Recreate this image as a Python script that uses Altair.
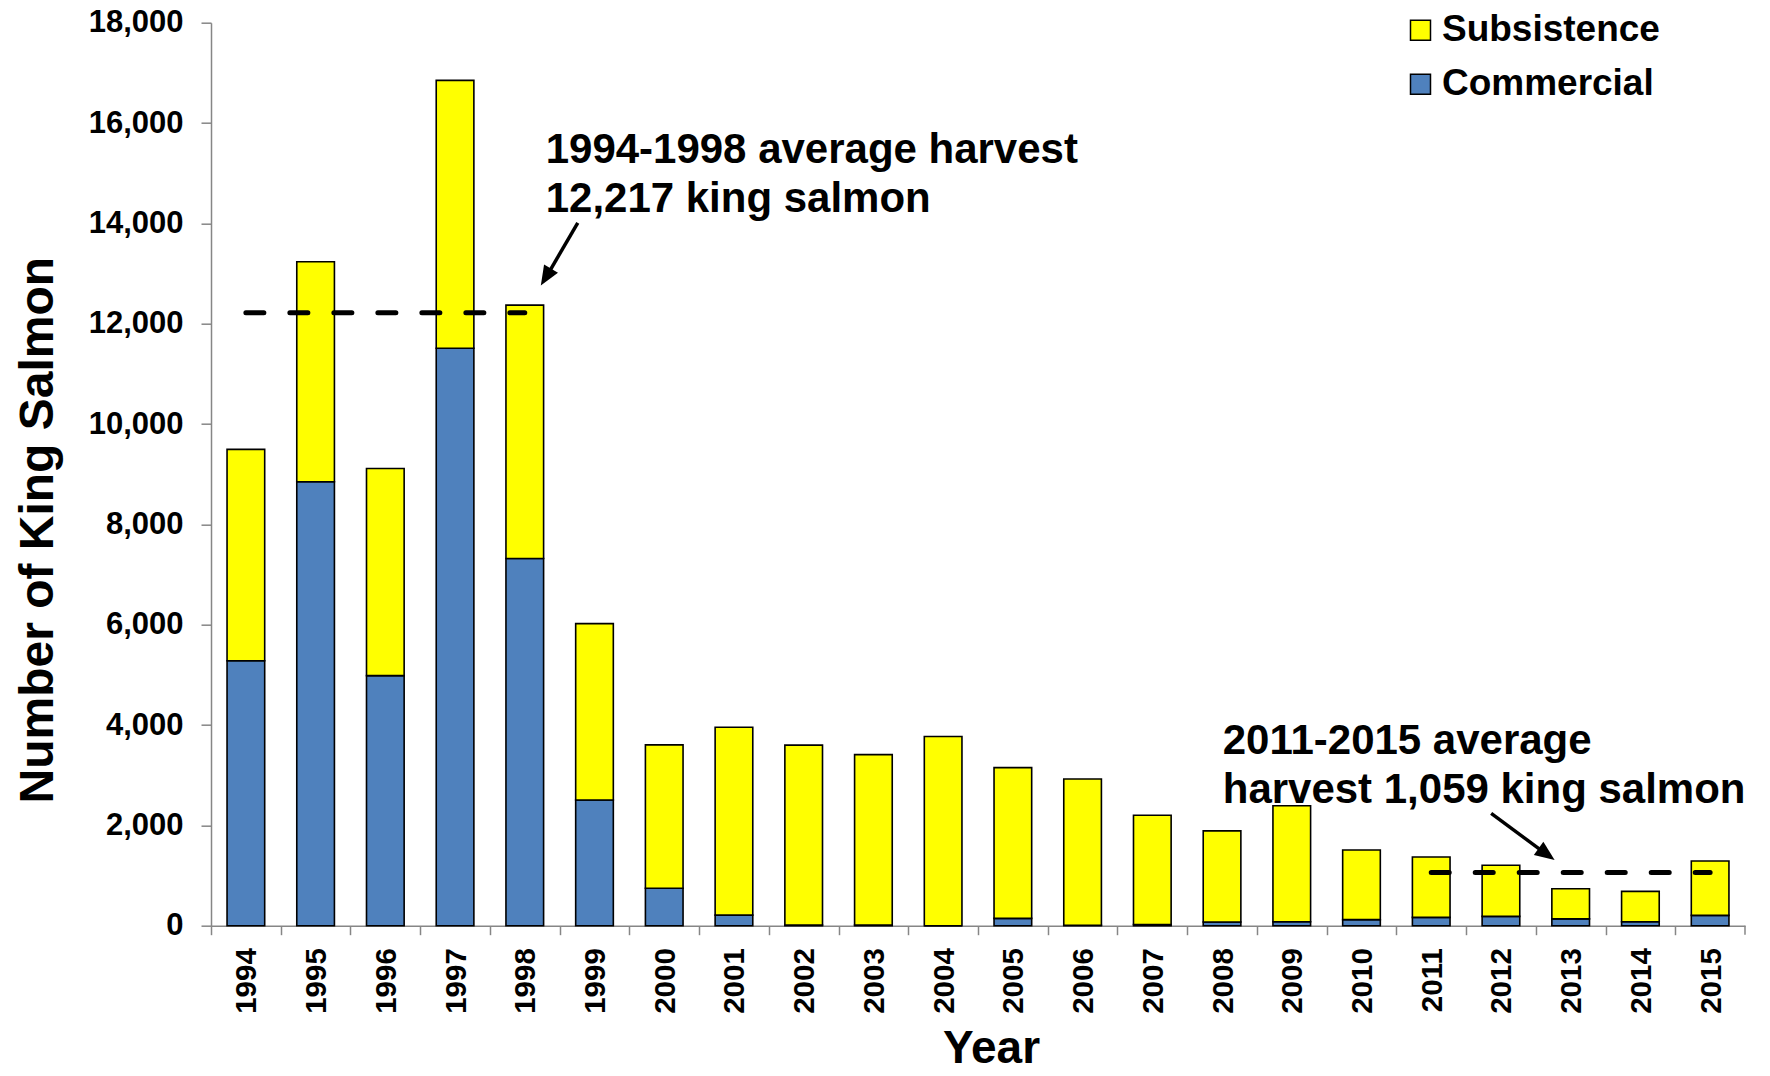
import altair as alt
import pandas as pd

years = [str(y) for y in range(1994, 2016)]
totals = [9495, 13235, 9115, 16850, 12370, 6022, 3605, 3955, 3600, 3410, 3770,
          3150, 2925, 2200, 1890, 2390, 1510, 1370, 1205, 735, 685, 1290]
commercial = [5280, 8850, 4985, 11510, 7320, 2506, 745, 210, 15, 15, 0,
              145, 10, 25, 75, 80, 120, 165, 185, 135, 80, 205]
subsistence = [t - c for t, c in zip(totals, commercial)]

series = ["Subsistence", "Commercial"]
colors = ["#FFFF00", "#4F81BD"]

# average lines
avg_start = [1994, 2011]
avg_end = [1998, 2015]
avg_value = [12217, 1059]

# annotation texts (x in year units, y in salmon counts)
note_text = ["1994-1998 average harvest\n12,217 king salmon",
             "2011-2015 average\nharvest 1,059 king salmon"]
note_x = [1998.30, 2008.01]
note_y = [15202, 3422]

# arrows (tail -> shaft end -> tip)
arrow_tail_x = [1998.76, 2011.86]
arrow_tail_y = [14012, 2240]
arrow_end_x = [1998.307, 2012.65]
arrow_end_y = [12930, 1427]
arrow_tip_x = [1998.23, 2012.77]
arrow_tip_y = [12760, 1310]
arrow_angle = [211, 126]

FONT = "Liberation Sans"
XDOM = [1993.5, 2015.5]
YDOM = [0, 18000]
STEP = 1534 / 22

rows = []
for y, c, s in zip(years, commercial, subsistence):
    rows.append({"Year": y, "Type": "Commercial", "Count": c, "ord": 0})
    rows.append({"Year": y, "Type": "Subsistence", "Count": s, "ord": 1})
bars_df = pd.DataFrame(rows)

avg_df = pd.DataFrame({"x": avg_start, "x2": avg_end, "v": avg_value})
note_df = pd.DataFrame({"x": note_x, "y": note_y, "t": note_text})
arrow_df = pd.DataFrame({"x": arrow_tail_x, "y": arrow_tail_y,
                         "x2": arrow_end_x, "y2": arrow_end_y,
                         "tx": arrow_tip_x, "ty": arrow_tip_y, "a": arrow_angle})
endtick_df = pd.DataFrame({"x": [XDOM[1]], "y": [0]})

bars = alt.Chart(bars_df).mark_bar(stroke="black", strokeWidth=1.6).encode(
    x=alt.X("Year:N", sort=years,
            scale=alt.Scale(paddingInner=0.46, paddingOuter=0.23),
            axis=alt.Axis(title="Year", labelAngle=270, labelAlign="right",
                          labelBaseline="middle", labelFont=FONT, labelFontWeight="bold",
                          labelFontSize=29.5, labelColor="black", labelPadding=13,
                          tickOffset=-STEP / 2, labelOffset=STEP / 2 + 1,
                          tickSize=9, tickColor="#868686", tickWidth=1.5,
                          domainColor="#868686", domainWidth=1.5,
                          titleFont=FONT, titleFontWeight="bold", titleFontSize=46,
                          titleColor="black", titleX=780, titleY=137,
                          titleBaseline="alphabetic", titleAlign="center")),
    y=alt.Y("Count:Q", stack="zero",
            scale=alt.Scale(domain=YDOM, nice=False),
            axis=alt.Axis(title="Number of King Salmon", values=list(range(0, 18001, 2000)),
                          format=",d", grid=False, labelFont=FONT, labelFontWeight="bold",
                          labelFontSize=31, labelColor="black", labelPadding=18,
                          tickSize=10, tickColor="#868686", tickWidth=1.5,
                          domainColor="#868686", domainWidth=1.5,
                          titleFont=FONT, titleFontWeight="bold", titleFontSize=48,
                          titleColor="black", titleAngle=270, titleX=-159, titleY=507,
                          titleBaseline="alphabetic", titleAlign="center")),
    color=alt.Color("Type:N", scale=alt.Scale(domain=series, range=colors),
                    legend=alt.Legend(title=None, orient="none", legendX=1191, legendY=-11,
                                      symbolType="square", symbolSize=400,
                                      symbolStrokeColor="black", symbolStrokeWidth=1.5,
                                      symbolOpacity=1, labelLimit=0,
                                      labelFont=FONT, labelFontWeight="bold", labelFontSize=37,
                                      labelColor="black", labelOffset=3, rowPadding=16,
                                      padding=0)),
    order=alt.Order("ord:Q"),
)

xq = dict(scale=alt.Scale(domain=XDOM, nice=False, zero=False), axis=None)
yq = dict(scale=alt.Scale(domain=YDOM, nice=False), axis=None)

avg_lines = alt.Chart(avg_df).mark_rule(
    color="black", strokeWidth=5, strokeDash=[18, 26], strokeCap="round"
).encode(x=alt.X("x:Q", **xq), x2="x2:Q", y=alt.Y("v:Q", **yq))

shafts = alt.Chart(arrow_df).mark_rule(color="black", strokeWidth=3.5).encode(
    x=alt.X("x:Q", **xq), x2="x2:Q", y=alt.Y("y:Q", **yq), y2="y2:Q")

heads = alt.Chart(arrow_df).mark_point(
    shape="M0,0L0.45,1.1L-0.45,1.1Z", filled=True, color="black", size=1300, opacity=1
).encode(x=alt.X("tx:Q", **xq), y=alt.Y("ty:Q", **yq), angle=alt.Angle("a:Q", scale=None))

notes = alt.Chart(note_df).mark_text(
    align="left", baseline="alphabetic", font=FONT, fontWeight="bold",
    fontSize=42, lineHeight=49, lineBreak="\n", color="black"
).encode(x=alt.X("x:Q", **xq), y=alt.Y("y:Q", **yq), text="t:N")

end_tick = alt.Chart(endtick_df).mark_rule(color="#868686", strokeWidth=1.5).encode(
    x=alt.X("x:Q", **xq), y=alt.value(903), y2=alt.value(912))

chart = alt.layer(bars, avg_lines, shafts, heads, notes, end_tick).resolve_scale(
    x="independent", y="independent"
).properties(
    width=1534, height=903,
    autosize="none",
    padding={"left": 203, "top": 14.7, "right": 17, "bottom": 140},
    background="white",
).configure_view(stroke=None)

chart.save("out.html", embed_options={"renderer": "svg", "actions": False})
